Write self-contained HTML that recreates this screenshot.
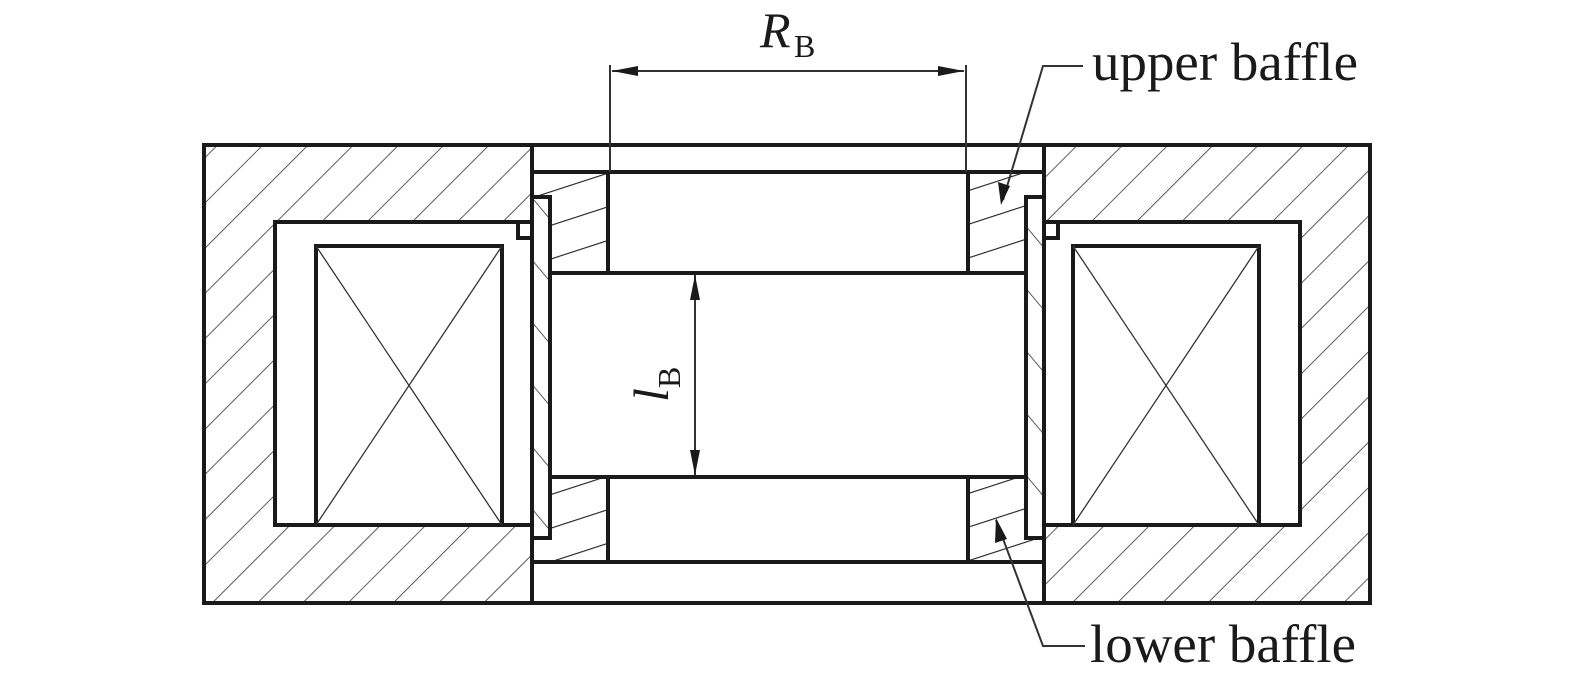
<!DOCTYPE html>
<html><head><meta charset="utf-8"><style>html,body{margin:0;padding:0;background:#fff}svg{display:block}</style></head>
<body>
<svg width="1575" height="682" viewBox="0 0 1575 682" xmlns="http://www.w3.org/2000/svg">
<defs>
<pattern id="h45" patternUnits="userSpaceOnUse" width="32" height="32" patternTransform="rotate(45)">
<line x1="0" y1="0" x2="0" y2="32" stroke="#333" stroke-width="1.6"/>
</pattern>
<pattern id="hb" patternUnits="userSpaceOnUse" width="40" height="32" patternTransform="rotate(-18)">
<line x1="0" y1="0" x2="40" y2="0" stroke="#222" stroke-width="2.2"/>
</pattern>
<pattern id="hs" patternUnits="userSpaceOnUse" width="40" height="40" patternTransform="rotate(-40)">
<line x1="0" y1="0" x2="0" y2="40" stroke="#333" stroke-width="1.6"/>
</pattern>
</defs>
<path fill="url(#h45)" fill-rule="evenodd" d="M204 145H532V603H204Z M275 222H518V238H532V525H275Z"/>
<path fill="url(#h45)" fill-rule="evenodd" d="M1044 145H1370V603H1044Z M1300 222H1058V238H1044V525H1300Z"/>
<rect x="532" y="172" width="76" height="100" fill="url(#hb)"/>
<rect x="532" y="477" width="76" height="85" fill="url(#hb)"/>
<rect x="968" y="172" width="76" height="100" fill="url(#hb)"/>
<rect x="968" y="477" width="76" height="85" fill="url(#hb)"/>
<rect x="532" y="197" width="18" height="341" fill="#fff"/>
<rect x="1026" y="197" width="18" height="341" fill="#fff"/>
<rect x="534" y="199" width="14" height="337" fill="url(#hs)"/>
<rect x="1028" y="199" width="14" height="337" fill="url(#hs)"/>
<rect x="277" y="240" width="253" height="283" fill="#fff"/>
<rect x="1046" y="240" width="252" height="283" fill="#fff"/>
<rect x="277" y="224" width="240" height="20" fill="#fff"/>
<rect x="1059" y="224" width="239" height="20" fill="#fff"/>
<g fill="none" stroke="#1a1a1a" stroke-width="4">
<rect x="204" y="145" width="1166" height="458"/>
<line x1="532" y1="145" x2="532" y2="603"/>
<line x1="1044" y1="145" x2="1044" y2="603"/>
<line x1="532" y1="172" x2="1044" y2="172"/>
<line x1="532" y1="562" x2="1044" y2="562"/>
<line x1="550" y1="273" x2="1026" y2="273"/>
<line x1="550" y1="477" x2="1026" y2="477"/>
<line x1="608" y1="172" x2="608" y2="273"/>
<line x1="968" y1="172" x2="968" y2="273"/>
<line x1="608" y1="477" x2="608" y2="562"/>
<line x1="968" y1="477" x2="968" y2="562"/>
<path d="M532 197H550V538H532"/>
<path d="M1044 197H1026V538H1044"/>
<path d="M532 222H275V525H532 M518 222V238H532"/>
<path d="M1044 222H1300V525H1044 M1058 222V238H1044"/>
<rect x="316" y="246" width="186" height="279"/>
<rect x="1073" y="246" width="186" height="279"/>
</g>
<g stroke="#333" stroke-width="1.3">
<line x1="316" y1="246" x2="502" y2="525"/><line x1="502" y1="246" x2="316" y2="525"/>
<line x1="1073" y1="246" x2="1259" y2="525"/><line x1="1259" y1="246" x2="1073" y2="525"/>
</g>
<g stroke="#333" stroke-width="2" fill="none">
<line x1="610" y1="65" x2="610" y2="172"/>
<line x1="966" y1="65" x2="966" y2="172"/>
<line x1="612" y1="71" x2="964" y2="71"/>
<line x1="695" y1="275" x2="695" y2="475"/>
<polyline points="1083,66 1043,66 1003,200"/>
<polyline points="996,520 1043,646 1085,646"/>
</g>
<g fill="#1a1a1a">
<polygon points="612,71 638,66 638,76"/>
<polygon points="964,71 938,66 938,76"/>
<polygon points="695,275 690,300 700,300"/>
<polygon points="695,475 690,450 700,450"/>
<polygon points="1001,205 998,182 1010,186"/>
<polygon points="996,518 995,543 1007,539"/>
</g>
<g font-family="Liberation Serif, serif" fill="#1a1a1a">
<text x="760" y="47" font-size="50" font-style="italic">R</text>
<text x="794" y="57" font-size="32">B</text>
<text x="1092" y="80" font-size="54" textLength="266" lengthAdjust="spacingAndGlyphs">upper baffle</text>
<text x="1090" y="662" font-size="54" textLength="266" lengthAdjust="spacingAndGlyphs">lower baffle</text>
<g transform="translate(668,380) rotate(-90)">
<text x="-22" y="0" font-size="50" font-style="italic">l</text>
<text x="-8" y="12" font-size="32">B</text>
</g>
</g>
</svg>
</body></html>
